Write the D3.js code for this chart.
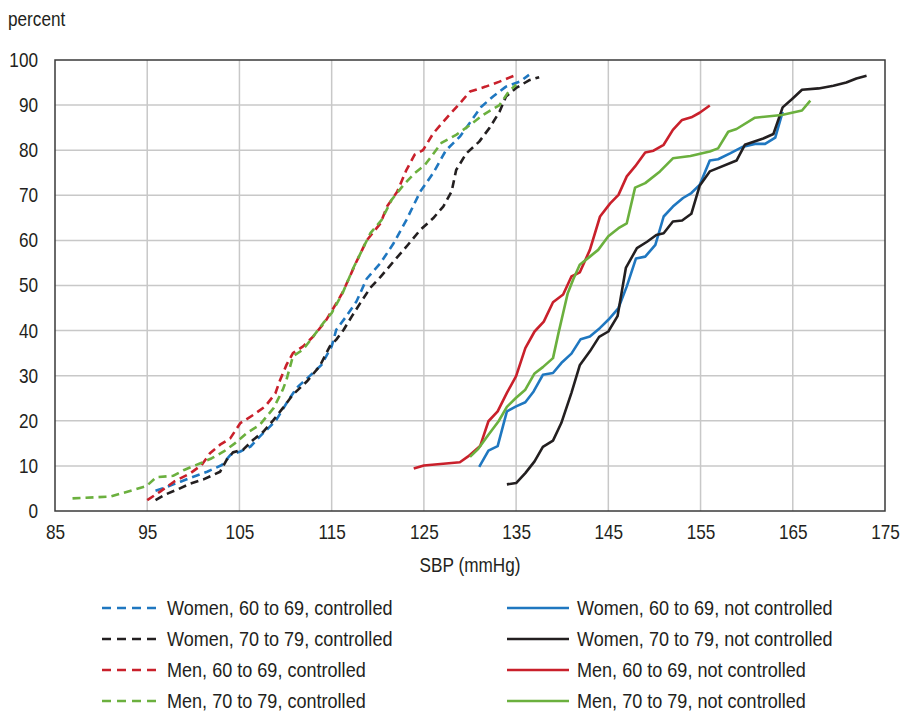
<!DOCTYPE html>
<html>
<head>
<meta charset="utf-8">
<script src="https://cdn.jsdelivr.net/npm/d3@7"></script>
<style>
  body { margin: 0; background: #fff; }
  svg { font-family: "Liberation Sans", Arial, sans-serif; }
</style>
</head>
<body>
<svg width="902" height="713"></svg>
<script>
// cumulative percent by systolic blood pressure, [SBP, percent]
const womenYoungCtrl = [[95.9,4.5],[97.2,5.4],[98.6,6.5],[100,7.6],[101.5,8.7],[103.1,10.2],[104,12.4],[105.1,13.2],[106.2,14.3],[107.2,16.5],[108.3,18.7],[109,20.2],[110.1,23.9],[111.2,27.3],[112.6,29.9],[113.9,32.4],[115,36.5],[115.5,40.2],[116.6,43.2],[117.7,46.5],[118.8,51.5],[120.3,55],[121.7,59.3],[123.1,64.5],[124.6,70.8],[126,74.9],[127.4,80],[128.9,83],[130.3,87],[131.2,89.6],[132.5,91.9],[133.9,94.1],[135.4,95.2],[136.4,96.7]];
const womenOldCtrl = [[95.9,2.4],[96.9,3.6],[98.2,4.7],[99.7,6.1],[101.1,7],[102.9,8.7],[103.6,11.3],[104.3,13],[105.4,13.6],[106.5,15.8],[107.6,17.6],[108.7,20.2],[109.7,22.8],[110.8,25.8],[112.3,28.7],[113.7,32.1],[114.8,36.5],[115.5,38],[116.3,40.2],[117.2,43.2],[118.1,46.1],[119.2,49.5],[120.3,51.9],[121.7,55.3],[123.1,58.6],[124.6,62.3],[126,64.9],[127.1,67.5],[128,70.8],[128.5,75.6],[129.6,79.3],[131,81.9],[132.1,84.9],[133.2,88.5],[133.9,91.9],[135,93.8],[136.4,95.5],[137.5,96.2]];
const menYoungCtrl = [[95,2.4],[96.4,4.3],[97.9,6.5],[99.7,8.4],[100.9,10.2],[101.8,12.8],[102.9,14.7],[104,16.1],[105.1,19.5],[106.5,21.3],[107.8,23.2],[108.9,26.1],[109.4,29],[110.1,32.4],[110.8,35],[111.9,36.5],[113,38.7],[114.3,42],[115.2,45],[116.2,48.5],[117.6,54.9],[118.8,60],[120.3,63.8],[121,67.5],[122.1,70.8],[123.1,75.6],[124,79],[124.9,80],[126,83.7],[127.4,87],[128.9,90.4],[130,93],[131.7,94.1],[133.2,95.2],[135,96.7]];
const menOldCtrl = [[86.9,2.8],[91,3.2],[94.9,5.5],[96,7.5],[97.8,7.8],[99,9.1],[100.9,10.7],[102,11.7],[103.3,13.2],[104.5,15],[105.8,17.3],[107.2,19.1],[108.7,22.8],[109.7,26.9],[110.1,29.1],[110.8,34.3],[111.9,35.8],[113,38.7],[114.1,41.7],[115,43.9],[116.2,48.4],[117.4,54.1],[119.2,61.6],[120.4,64.5],[121.5,69],[122.8,72.3],[124,74.9],[125.1,76.7],[126.9,81.6],[128.5,83.4],[130,85.6],[131.4,87.8],[133.2,90],[134.2,93],[135,94.5]];
const womenYoungNot = [[131,9.8],[132,13.4],[133,14.4],[134,22.1],[135,23.2],[136,24.1],[136.9,26.5],[137.9,30.2],[139,30.6],[139.9,32.8],[141,34.9],[142,38.1],[143,38.7],[144.1,40.6],[145,42.4],[146.1,45],[147,49.8],[148,56],[149,56.4],[150.1,59],[151,65.3],[152,67.5],[153.1,69.4],[154,70.5],[154.9,72.3],[156,77.7],[156.9,78],[158.2,79.3],[159.5,80.7],[160.9,81.4],[162,81.4],[163.1,82.8],[163.9,88.5]];
const womenOldNot = [[134,5.9],[135,6.2],[136,8.4],[137,11],[137.9,14.2],[139,15.6],[139.9,19.5],[141,26.2],[141.9,32.3],[143,35.4],[144,38.6],[145,39.8],[146,43.2],[146.9,53.9],[148.1,58.3],[149.2,59.7],[150.2,61.2],[151,61.6],[152,64.2],[153,64.4],[154,65.9],[154.9,72.1],[156,75.3],[158.9,77.7],[159.8,81.2],[161.8,82.6],[162.9,83.6],[163.9,89.5],[164.9,91.3],[166,93.4],[167.8,93.7],[169.4,94.3],[170.8,95],[171.9,95.9],[173,96.5]];
const menYoungNot = [[123.9,9.4],[125,10.1],[128.9,10.8],[129.8,12.1],[131.1,14.4],[132,19.9],[133,22.1],[134,26.2],[135,29.9],[136,36.1],[137,39.8],[138,42],[139,46.3],[140.1,48],[141,52],[141.9,52.9],[143,57.9],[144.1,65.3],[145.2,68.2],[146.1,70.1],[147,74.2],[147.9,76.4],[149,79.5],[149.9,79.9],[151,81.2],[152,84.5],[153,86.7],[154,87.3],[154.9,88.3],[156,89.9]];
const menOldNot = [[130,12],[130.9,13.8],[132,16.9],[133.1,19.9],[134,23.1],[135,25.1],[136,26.9],[137,30.5],[137.9,31.9],[139,33.9],[139.6,39.5],[140.1,43.9],[140.6,48.3],[141.2,51.4],[141.9,54.6],[143,56.4],[143.9,57.9],[145,60.9],[146.1,62.7],[147,63.8],[147.9,71.7],[149,72.7],[150.6,75.3],[152,78.2],[153.9,78.7],[156,79.7],[156.9,80.4],[158,84.1],[158.9,84.7],[160.9,87.2],[163.8,87.8],[166,88.8],[166.9,91]];

const xTicks = [85, 95, 105, 115, 125, 135, 145, 155, 165, 175];
const yTicks = [0, 10, 20, 30, 40, 50, 60, 70, 80, 90, 100];

const blue = '#1f77c0';
const black = '#231f20';
const red = '#c9202b';
const green = '#6bb03e';

const series = [
    {name: 'Women, 60 to 69, controlled', values: womenYoungCtrl, color: blue, dashed: true},
    {name: 'Women, 70 to 79, controlled', values: womenOldCtrl, color: black, dashed: true},
    {name: 'Men, 60 to 69, controlled', values: menYoungCtrl, color: red, dashed: true},
    {name: 'Men, 70 to 79, controlled', values: menOldCtrl, color: green, dashed: true},
    {name: 'Women, 60 to 69, not controlled', values: womenYoungNot, color: blue, dashed: false},
    {name: 'Women, 70 to 79, not controlled', values: womenOldNot, color: black, dashed: false},
    {name: 'Men, 60 to 69, not controlled', values: menYoungNot, color: red, dashed: false},
    {name: 'Men, 70 to 79, not controlled', values: menOldNot, color: green, dashed: false}
];

const plotLeft = 55, plotRight = 885, plotTop = 60, plotBottom = 511;
const textColor = '#231f20';
const squeeze = 0.86; // condensed look from a regular face

const svg = d3.select('svg');

const xScale = d3.scaleLinear().domain([85, 175]).range([plotLeft, plotRight]);
const yScale = d3.scaleLinear().domain([0, 100]).range([plotBottom, plotTop]);

// text at (x, y) squeezed horizontally
function label(parent, x, y, str, size, anchor) {
    return parent.append('text')
        .attr('transform', `translate(${x}, ${y}) scale(${squeeze}, 1)`)
        .attr('fill', textColor)
        .style('font-size', size + 'px')
        .style('text-anchor', anchor || 'start')
        .text(str);
}

// grid
svg.append('g')
    .selectAll('line')
    .data(xTicks.slice(1, -1))
    .enter()
    .append('line')
    .attr('x1', d => xScale(d)).attr('x2', d => xScale(d))
    .attr('y1', plotTop).attr('y2', plotBottom)
    .attr('stroke', '#c8c8c8').attr('stroke-width', 1.5);

svg.append('g')
    .selectAll('line')
    .data(yTicks.slice(1, -1))
    .enter()
    .append('line')
    .attr('y1', d => yScale(d)).attr('y2', d => yScale(d))
    .attr('x1', plotLeft).attr('x2', plotRight)
    .attr('stroke', '#c8c8c8').attr('stroke-width', 1.5);

svg.append('rect')
    .attr('x', plotLeft).attr('y', plotTop)
    .attr('width', plotRight - plotLeft).attr('height', plotBottom - plotTop)
    .attr('fill', 'none')
    .attr('stroke', '#3a3a3a').attr('stroke-width', 1.5);

// axes
const xAxis = d3.axisBottom(xScale).tickValues(xTicks).tickSize(0).tickPadding(14);
const yAxis = d3.axisLeft(yScale).tickValues(yTicks).tickSize(0).tickPadding(17);

const gx = svg.append('g')
    .attr('transform', `translate(0, ${plotBottom})`)
    .call(xAxis);
const gy = svg.append('g')
    .attr('transform', `translate(${plotLeft}, 0)`)
    .call(yAxis);

[gx, gy].forEach(g => {
    g.select('.domain').remove();
    g.attr('font-family', null).attr('font-size', null);
    g.selectAll('text')
        .attr('fill', textColor)
        .attr('transform', `scale(${squeeze}, 1)`)
        .style('font-size', '20px');
});
gy.selectAll('text').attr('x', -17 / squeeze);

label(svg, 8, 26, 'percent', 20);
label(svg, 470, 572, 'SBP (mmHg)', 20, 'middle');

// lines
const line = d3.line()
    .x(d => xScale(d[0]))
    .y(d => yScale(d[1]));

svg.append('g')
    .selectAll('path')
    .data(series)
    .enter()
    .append('path')
    .attr('d', d => line(d.values))
    .attr('fill', 'none')
    .attr('stroke', d => d.color)
    .attr('stroke-width', 2.6)
    .attr('stroke-linejoin', 'round')
    .attr('stroke-dasharray', d => d.dashed ? '8,5' : null);

// legend
const legend = svg.append('g')
    .selectAll('.legend')
    .data(series)
    .enter()
    .append('g')
    .classed('legend', true)
    .attr('transform', (d, i) => `translate(${i < 4 ? 102 : 507}, ${608 + (i % 4) * 31})`);

legend.append('line')
    .attr('x1', 0)
    .attr('x2', d => d.dashed ? 58 : 62)
    .attr('stroke', d => d.color)
    .attr('stroke-width', 2.6)
    .attr('stroke-dasharray', d => d.dashed ? '9,6' : null);

legend.each(function(d) {
    label(d3.select(this), d.dashed ? 65 : 70, 7, d.name, 21);
});
</script>
</body>
</html>
